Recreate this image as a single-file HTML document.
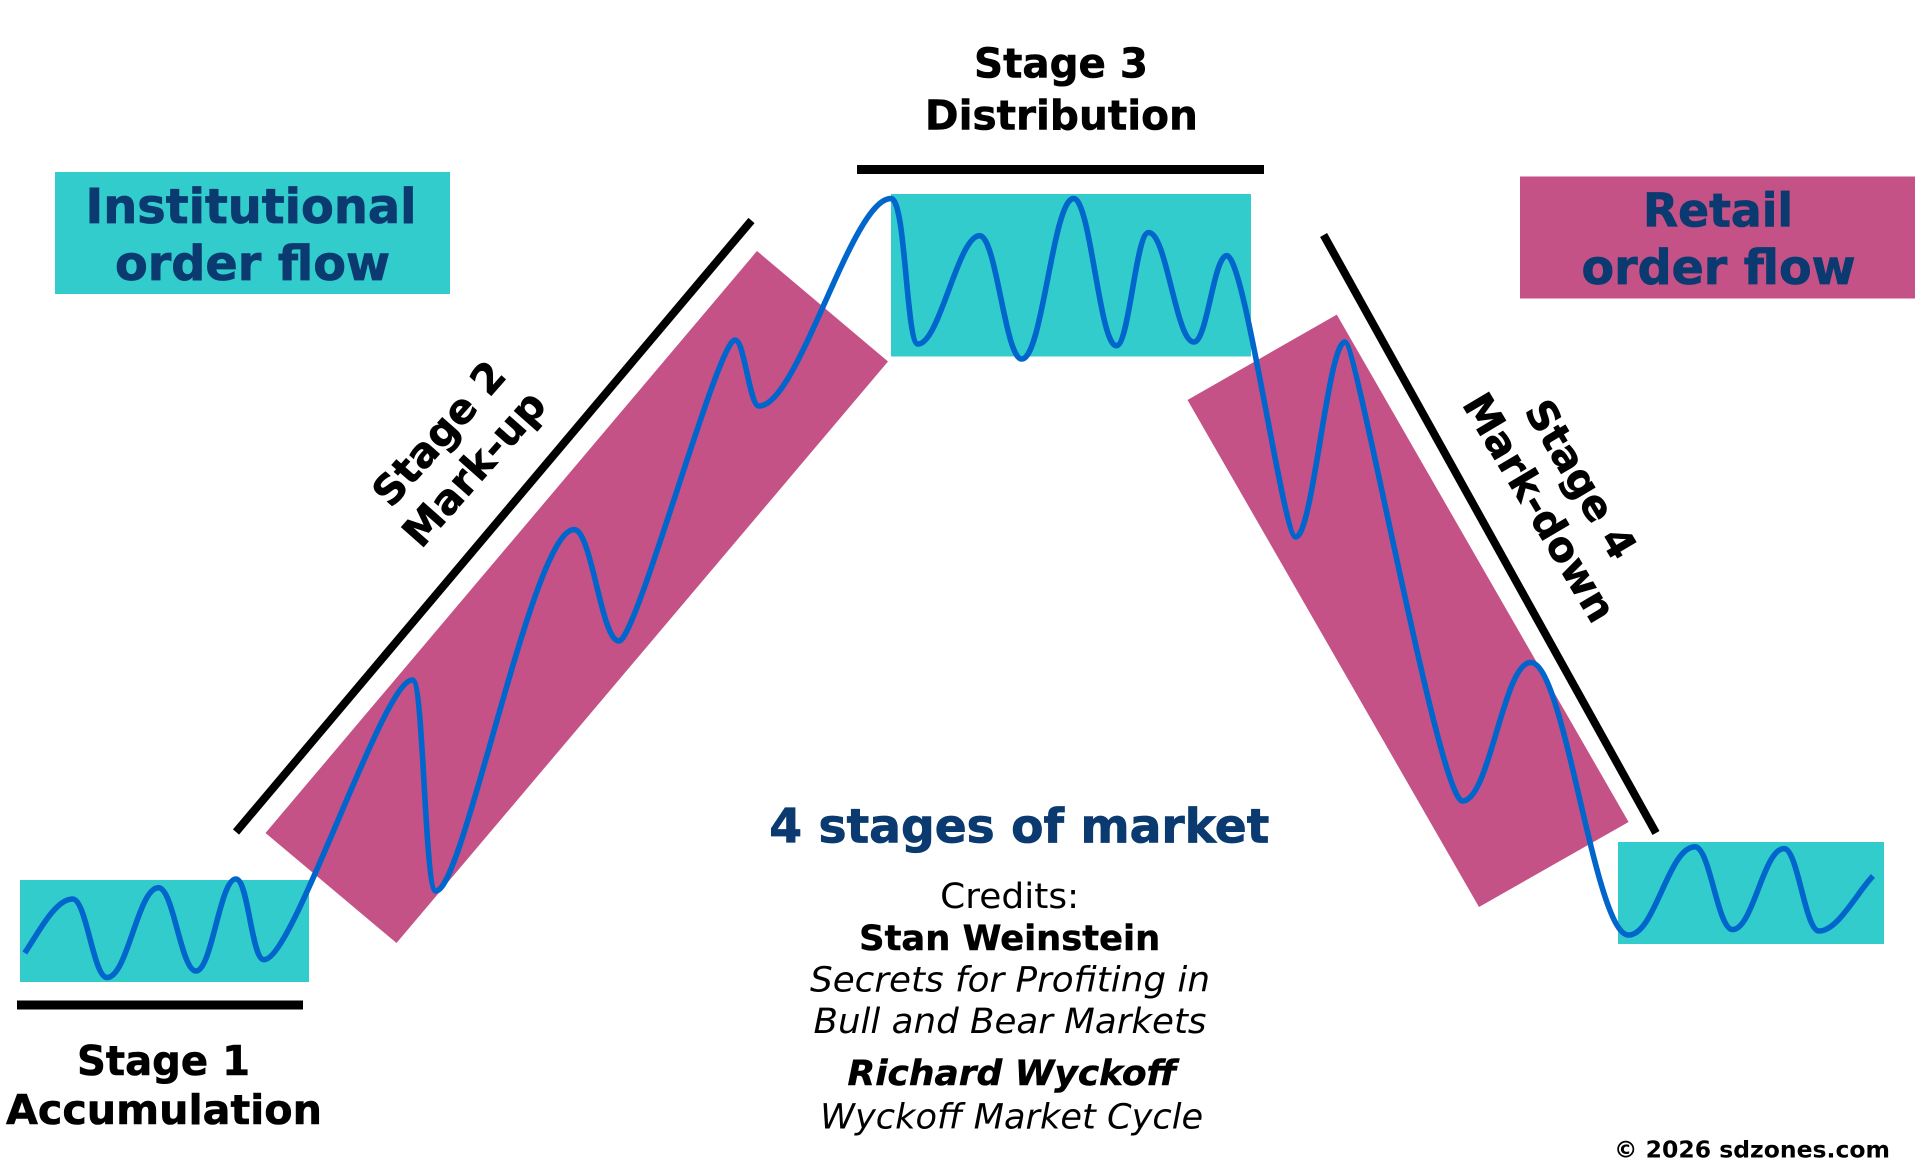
<!DOCTYPE html>
<html>
<head>
<meta charset="utf-8">
<style>
  html, body { margin:0; padding:0; background:#ffffff; }
  body { width:1920px; height:1176px; overflow:hidden; }
  svg { display:block; }
  text { font-family: "DejaVu Sans", "Liberation Sans", sans-serif; }
  .b { font-weight:bold; }
  .i { font-style:italic; }
</style>
</head>
<body>
<svg width="1920" height="1176" viewBox="0 0 1920 1176" xmlns="http://www.w3.org/2000/svg">
  <rect x="0" y="0" width="1920" height="1176" fill="#ffffff"/>

  <!-- Magenta trend bands -->
  <polygon points="757,251 888,361.5 396.5,943 265.5,833" fill="#C45287"/>
  <polygon points="1336.8,314.6 1628.6,822 1479,907 1187.5,400" fill="#C45287"/>

  <!-- Teal range boxes -->
  <rect x="20" y="880" width="289" height="102" fill="#33CCCC"/>
  <rect x="891" y="194" width="360" height="162.5" fill="#33CCCC"/>
  <rect x="1618" y="842" width="266" height="102" fill="#33CCCC"/>

  <!-- Legend boxes -->
  <rect x="55" y="172" width="395" height="122" fill="#33CCCC"/>
  <rect x="1520" y="176.5" width="395" height="122" fill="#C45287"/>

  <!-- Black bars / lines -->
  <rect x="857" y="165" width="407" height="9" fill="#000"/>
  <rect x="17" y="1000.5" width="286" height="9" fill="#000"/>
  <line x1="236" y1="832" x2="751.5" y2="220.5" stroke="#000" stroke-width="8"/>
  <line x1="1323.6" y1="235" x2="1656" y2="833" stroke="#000" stroke-width="8"/>

  <!-- Price wave -->
  <path fill="none" stroke="#0066CC" stroke-width="5.6" stroke-linejoin="round" d="
    M24.8,953
    C38.8,932 55.4,899 72.7,899
    C86.4,899 93.3,977.5 107,977.5
    C127.6,977.5 137.9,887.7 158.5,887.7
    C173.5,887.7 181,971 196,971
    C211.9,971 219.9,879 235.8,879
    C248.5,879 251.3,959.7 264,959.7
    C293.7,959.7 382.7,680 412.4,680
    C424.2,680 424.2,891 436,891
    C463.6,891 532.6,529.6 574,529.6
    C592,529.6 601,641 619,641
    C636.4,641 717.6,340 735,340
    C744.6,340 749.4,406 759,406
    C798.6,406 851.4,198.5 891,198.5
    C906,198.5 906,344 918,344
    C939.6,344 958,235.7 979.6,235.7
    C996.5,235.7 1004.9,359 1021.8,359
    C1042.5,359 1052.9,198.6 1073.6,198.6
    C1090.7,198.6 1099.3,345.7 1116.4,345.7
    C1129.3,345.7 1135.7,232.5 1148.6,232.5
    C1166.8,232.5 1175.8,342 1194,342
    C1207.1,342 1213.7,255.7 1226.8,255.7
    C1245,255.7 1283,537 1295.7,537
    C1313,537 1327.7,342 1345,342
    C1356.8,342 1439,801 1462.5,801
    C1489.8,801 1503.4,662.5 1530.7,662.5
    C1565,662.5 1594.3,935 1628.6,935
    C1655.2,935 1668.4,846.8 1695,846.8
    C1710,846.8 1717.5,929.6 1732.5,929.6
    C1753.1,929.6 1763.4,848.6 1784,848.6
    C1798,848.6 1805,931 1819,931
    C1838,931 1858,891 1873,876"/>

  <!-- Legend texts -->
  <g fill="#0A3A6F" stroke="#0A3A6F" stroke-width="0.8" class="b" font-size="48" text-anchor="middle">
    <text x="251" y="223" textLength="331" lengthAdjust="spacingAndGlyphs">Institutional</text>
    <text x="252.5" y="280" textLength="275" lengthAdjust="spacingAndGlyphs">order flow</text>
    <text x="1718" y="226.6" font-size="46" textLength="150" lengthAdjust="spacingAndGlyphs">Retail</text>
    <text x="1718.5" y="284" textLength="274" lengthAdjust="spacingAndGlyphs">order flow</text>
  </g>

  <!-- Stage labels -->
  <g fill="#000" stroke="#000" stroke-width="0.6" class="b" font-size="41" text-anchor="middle">
    <text x="1061" y="77.3" textLength="174" lengthAdjust="spacingAndGlyphs">Stage 3</text>
    <text x="1061.4" y="129.3" textLength="273" lengthAdjust="spacingAndGlyphs">Distribution</text>
    <text x="163.5" y="1075" textLength="173" lengthAdjust="spacingAndGlyphs">Stage 1</text>
    <text x="164" y="1124" textLength="316" lengthAdjust="spacingAndGlyphs">Accumulation</text>
  </g>

  <g fill="#000" stroke="#000" stroke-width="0.6" class="b" font-size="41" text-anchor="middle" transform="translate(449.5,443) rotate(-48.5)">
    <text x="0" y="0">Stage 2</text>
    <text x="-3" y="49.5">Mark-up</text>
  </g>

  <g fill="#000" stroke="#000" stroke-width="0.6" class="b" font-size="41" text-anchor="middle" transform="translate(1568.6,486.6) rotate(59.3)">
    <text x="0" y="0">Stage 4</text>
    <text x="3" y="50">Mark-down</text>
  </g>

  <!-- Center title & credits -->
  <text x="1019.3" y="842.7" fill="#0A3A6F" stroke="#0A3A6F" stroke-width="0.8" class="b" font-size="47" text-anchor="middle" textLength="500" lengthAdjust="spacingAndGlyphs">4 stages of market</text>

  <g fill="#000" font-size="35" text-anchor="middle">
    <text x="1009.7" y="908" textLength="139" lengthAdjust="spacingAndGlyphs">Credits:</text>
    <text x="1009.7" y="950" class="b" stroke="#000" stroke-width="0.5" textLength="301" lengthAdjust="spacingAndGlyphs">Stan Weinstein</text>
    <text x="1010" y="991.7" class="i" textLength="400" lengthAdjust="spacingAndGlyphs">Secrets for Profiting in</text>
    <text x="1010" y="1033" class="i" textLength="393" lengthAdjust="spacingAndGlyphs">Bull and Bear Markets</text>
    <text x="1012" y="1085" class="b i" stroke="#000" stroke-width="0.5" textLength="329" lengthAdjust="spacingAndGlyphs">Richard Wyckoff</text>
    <text x="1011.7" y="1128.3" class="i" textLength="383" lengthAdjust="spacingAndGlyphs">Wyckoff Market Cycle</text>
  </g>

  <!-- Copyright -->
  <text x="1614" y="1157.7" fill="#000" class="b" font-size="23" textLength="276" lengthAdjust="spacingAndGlyphs">© 2026 sdzones.com</text>
</svg>
</body>
</html>
